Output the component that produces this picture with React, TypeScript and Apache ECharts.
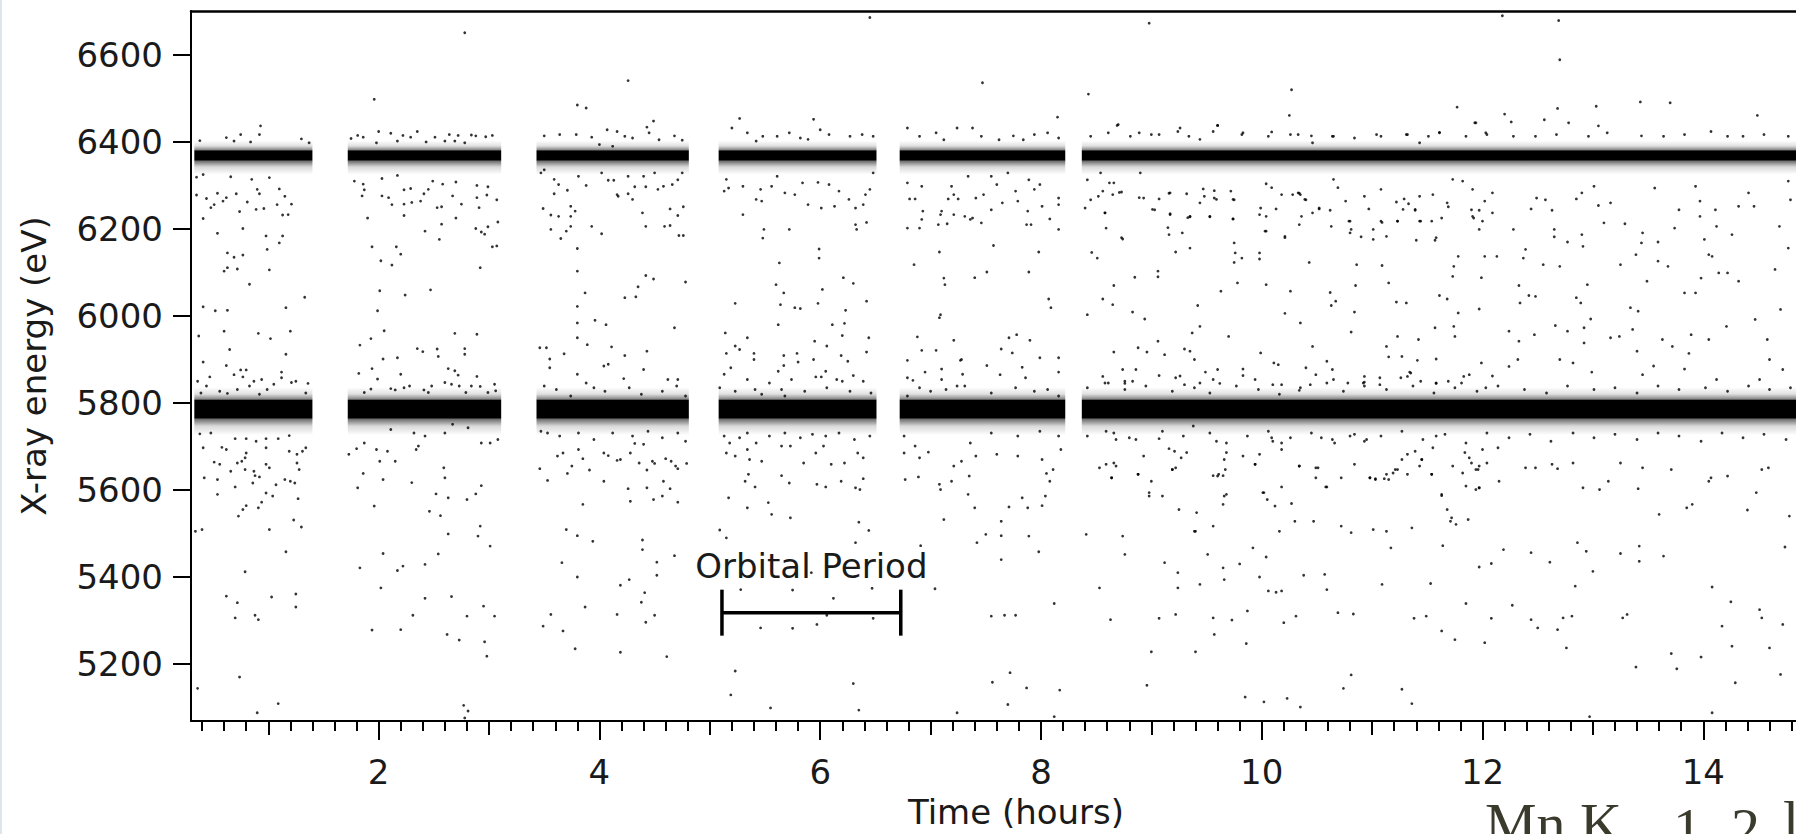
import React, { useEffect, useRef } from "react";
import * as echarts from "echarts";

// ---------------- data ----------------
// observation windows (hours)
const obsStart = [0.33, 1.72, 3.43, 5.08, 6.72, 8.37];
const obsEnd = [1.40, 3.11, 4.81, 6.51, 8.22, 14.84];
// emission line centres (eV) and the spread of their dense cores / halos (eV)
const lineCenter = [6368, 5785];
const lineHalfWidth = [12, 22];
const lineHaloAbove = [22, 28];
const lineHaloBelow = [32, 38];

const xTickLabels = [2, 4, 6, 8, 10, 12, 14];
const xMidTicks = [1, 3, 5, 7, 9, 11, 13];
const yTickLabels = [5200, 5400, 5600, 5800, 6000, 6200, 6400, 6600];

const orbitalLabel = "Orbital Period";
const orbitalBar = [[5.11, 6.73, 5317]];

const xTitle = "Time (hours)";
const yTitle = "X-ray energy (eV)";

// individual photon events: [time (h), energy (eV)]
const seg1Events = [
  [0.93,6436],[0.75,6416],[0.62,6409],[0.69,6401],[0.84,6399],[0.92,6416],[0.38,6402],[1.37,6397],[1.30,6406],
  [0.35,6318],[0.41,6324],[0.66,6319],[0.85,6313],[1.01,6317],[0.90,6290],[1.10,6291],[0.35,6277],[0.44,6269],[0.54,6281],[0.59,6263],[0.62,6271],[0.71,6280],[0.48,6248],[0.51,6255],[0.81,6261],[0.89,6244],[0.92,6280],[0.96,6246],[1.08,6255],[1.15,6274],[1.13,6231],[1.18,6232],[1.21,6256],[0.41,6223],[0.74,6239],[0.54,6189],[0.77,6200],[0.98,6183],[1.13,6183],[1.10,6167],[0.63,6144],[0.69,6134],[0.77,6139],[0.99,6152],[0.60,6102],[0.63,6110],[0.72,6107],[1.01,6105],[0.83,6072],[1.33,6042],[0.41,6020],[0.52,6011],[0.63,6012],[1.16,6018],[0.37,5953],[0.60,5964],[0.91,5959],[1.02,5947],[1.20,5964],[0.65,5922],[1.16,5911],[0.41,5893],[0.62,5885],[0.47,5859],[0.69,5864],[0.75,5875],[0.80,5875],[0.77,5859],[1.12,5870],[1.12,5857],[0.94,5853],[0.36,5849],[0.44,5838],[0.56,5826],[0.72,5830],[0.83,5838],[0.87,5849],[0.99,5830],[1.05,5842],[1.21,5846],[1.25,5849],[1.36,5844],[1.34,5822],[0.63,5821],[0.92,5819],[0.39,5822],
  [0.38,5728],[0.48,5730],[0.41,5696],[0.58,5697],[0.62,5692],[0.70,5717],[0.80,5717],[0.89,5711],[0.98,5717],[1.09,5717],[1.19,5724],[0.80,5684],[0.98,5696],[1.19,5688],[1.26,5681],[1.31,5688],[1.34,5696],[0.51,5663],[0.56,5658],[0.66,5642],[0.72,5661],[0.76,5665],[0.79,5673],[0.98,5658],[1.01,5650],[1.26,5661],[1.28,5646],[0.42,5627],[0.54,5623],[0.70,5606],[0.79,5646],[0.87,5642],[0.88,5632],[0.92,5629],[0.86,5615],[0.54,5589],[0.98,5592],[1.04,5585],[1.07,5611],[1.15,5623],[1.20,5619],[1.24,5615],[1.27,5579],[0.80,5563],[0.77,5554],[0.73,5539],[0.91,5558],[0.94,5571],[1.23,5530],[1.30,5514],[0.34,5504],[0.40,5508],[1.01,5508],[1.16,5457],[0.79,5411],[0.62,5355],[0.72,5340],[1.03,5353],[1.25,5360],[1.25,5330],[0.70,5305],[0.88,5311],[0.91,5301],[0.74,5169],[0.36,5143],[1.09,5108],[0.90,5087]
];

const seg2Events = [
  [1.75,6407],[1.81,6414],[1.86,6410],[2.00,6423],[2.11,6419],[2.22,6414],[2.29,6410],[2.35,6423],[2.17,6401],[1.98,6397],[2.43,6399],[2.51,6410],[2.64,6416],[2.72,6414],[2.84,6415],[2.88,6413],[2.97,6411],[3.03,6414],[2.60,6401],[2.69,6401],[2.78,6397],[1.96,6497],[2.78,6650],
  [1.78,6309],[1.86,6302],[1.85,6275],[1.87,6289],[2.03,6315],[2.03,6275],[2.09,6271],[2.12,6255],[2.17,6322],[2.23,6289],[2.23,6256],[2.29,6292],[2.30,6260],[2.38,6263],[2.41,6280],[2.45,6290],[2.49,6309],[2.58,6302],[2.67,6275],[2.70,6307],[2.75,6256],[2.53,6248],[2.57,6250],[2.23,6230],[1.90,6224],[2.70,6224],[2.89,6299],[2.99,6296],[2.89,6271],[2.98,6277],[3.07,6266],[2.91,6248],[3.08,6215],[2.88,6200],[2.93,6192],[2.96,6187],[2.99,6204],[2.42,6194],[2.57,6210],[2.55,6175],[1.94,6158],[2.16,6158],[2.20,6141],[2.02,6126],[2.12,6116],[2.92,6110],[3.03,6158],[3.07,6160],[2.01,6057],[2.24,6047],[2.47,6059],[1.99,6011],[2.05,5965],[1.93,5947],[1.83,5932],[2.69,5959],[2.89,5957],[2.04,5900],[2.17,5903],[1.94,5878],[1.99,5854],[2.20,5865],[2.35,5924],[2.40,5917],[2.53,5923],[2.54,5906],[2.78,5924],[2.78,5911],[2.63,5878],[2.69,5873],[2.72,5863],[2.89,5860],[1.82,5867],[1.87,5823],[1.93,5831],[2.11,5832],[2.15,5829],[2.23,5834],[2.28,5838],[2.41,5829],[2.45,5823],[2.48,5838],[2.60,5846],[2.66,5842],[2.73,5838],[2.84,5838],[2.92,5837],[2.99,5823],[3.05,5842],[3.06,5827],[2.79,5823],
  [2.11,5738],[2.32,5730],[2.36,5700],[2.42,5723],[2.60,5730],[2.67,5750],[2.81,5742],[2.93,5707],[3.01,5707],[3.08,5715],[2.34,5692],[2.08,5688],[2.15,5665],[2.04,5623],[2.30,5616],[2.52,5590],[2.63,5581],[2.59,5650],[2.60,5627],[2.80,5577],[2.88,5590],[2.93,5609],[2.46,5550],[2.56,5540],[2.63,5498],[2.92,5516],[2.90,5493],[3.01,5470],[2.54,5452],[2.04,5453],[2.17,5414],[2.22,5424],[2.42,5428],[2.42,5350],[2.66,5354],[2.95,5332],[2.31,5311],[2.80,5309],[3.05,5309],[2.20,5278],[2.62,5267],[2.73,5254],[2.96,5250],[2.98,5217],[2.77,5104],[2.81,5091],[2.78,5075],[1.73,5681],[1.81,5604],[1.86,5637],[1.96,5562],[1.83,5420],[2.02,5374],[1.94,5277],[1.98,5692],[2.01,5665],[1.87,5707],[1.80,5694]
];

const seg3Events = [
  [3.80,6484],[3.88,6477],[4.26,6540],[4.49,6447],[4.43,6433],[3.50,6413],[3.64,6416],[3.79,6416],[3.93,6410],[4.07,6427],[4.16,6423],[4.23,6412],[4.30,6408],[4.45,6420],[4.54,6404],[4.68,6413],[4.75,6403],[4.00,6393],[4.12,6389],
  [3.47,6328],[3.50,6335],[3.59,6313],[3.63,6301],[3.88,6299],[3.81,6320],[4.02,6328],[4.08,6311],[4.13,6311],[4.26,6320],[4.40,6320],[4.50,6328],[4.58,6297],[4.66,6301],[4.75,6328],[4.71,6312],[3.59,6280],[3.71,6288],[3.74,6251],[3.78,6240],[3.49,6246],[3.56,6231],[3.63,6228],[3.74,6228],[4.16,6278],[4.17,6274],[4.26,6280],[4.30,6267],[4.32,6296],[4.42,6296],[4.53,6290],[4.64,6245],[4.71,6230],[4.76,6250],[4.39,6236],[3.93,6205],[4.02,6188],[4.42,6205],[4.59,6205],[4.64,6207],[4.72,6184],[4.76,6184],[3.56,6198],[3.70,6194],[3.74,6205],[3.65,6177],[3.80,6154],[3.80,6102],[3.87,6052],[3.80,6021],[3.80,5983],[3.80,5949],[3.89,5933],[3.96,5989],[4.06,5979],[4.11,5928],[4.23,6041],[4.33,6043],[4.35,6066],[4.42,6092],[4.49,6084],[4.68,5972],[4.78,6077],[4.23,5908],[4.43,5918],[3.46,5926],[3.52,5926],[3.55,5900],[3.68,5912],[3.55,5880],[3.80,5865],[4.04,5884],[4.08,5888],[4.22,5855],[4.40,5876],[4.62,5853],[4.71,5853],[3.50,5838],[3.61,5830],[3.88,5845],[3.95,5834],[4.05,5826],[4.27,5834],[4.38,5819],[4.57,5826],[4.70,5838],[4.78,5815],[3.74,5815],
  [3.47,5734],[3.53,5730],[3.64,5723],[3.81,5730],[3.95,5715],[4.12,5730],[4.30,5723],[4.44,5734],[4.57,5719],[4.71,5730],[4.78,5711],[3.46,5648],[3.53,5621],[3.62,5677],[3.67,5684],[3.71,5637],[3.75,5654],[3.81,5692],[3.91,5645],[3.85,5671],[4.04,5619],[4.04,5684],[4.08,5678],[4.16,5667],[4.19,5669],[4.28,5684],[4.32,5706],[4.36,5661],[4.40,5704],[4.43,5645],[4.48,5665],[4.50,5660],[4.58,5619],[4.60,5671],[4.65,5665],[4.69,5654],[4.71,5648],[4.79,5660],[4.26,5602],[4.43,5604],[4.28,5573],[4.49,5577],[4.57,5585],[4.64,5602],[4.71,5571],[3.85,5566],[3.70,5508],[3.80,5494],[3.94,5481],[4.39,5484],[4.39,5462],[3.66,5432],[3.80,5399],[4.52,5433],[4.52,5403],[4.68,5448],[4.19,5380],[4.27,5393],[4.41,5363],[4.38,5341],[3.56,5313],[3.49,5286],[3.67,5275],[3.87,5330],[4.16,5313],[4.50,5311],[4.42,5295],[3.78,5234],[4.19,5226],[4.61,5216]
];

const seg4Events = [
  [5.27,6453],[5.94,6451],[6.45,6685],[5.20,6431],[5.34,6420],[5.48,6412],[5.61,6412],[5.72,6420],[5.82,6408],[6.00,6427],[6.08,6416],[6.27,6412],[6.38,6416],[6.48,6412],[5.42,6401],[5.89,6405],
  [5.15,6313],[5.13,6286],[5.17,6293],[5.30,6297],[5.42,6267],[5.47,6263],[5.46,6290],[5.56,6297],[5.61,6320],[5.68,6282],[5.77,6278],[5.84,6305],[5.89,6255],[5.98,6306],[6.01,6247],[6.08,6301],[6.13,6251],[6.17,6286],[6.26,6267],[6.32,6247],[6.39,6255],[6.41,6278],[6.45,6290],[6.48,6328],[6.32,6209],[6.33,6198],[6.42,6214],[5.30,6232],[5.49,6198],[5.48,6178],[5.72,6198],[5.99,6153],[5.99,6132],[5.63,6121],[5.60,6071],[5.67,6052],[5.23,6028],[5.64,6025],[5.77,6018],[5.82,6016],[5.98,6028],[6.02,6060],[6.21,6087],[6.30,6074],[6.23,6012],[6.42,6033],[5.62,5979],[6.11,5979],[6.22,5982],[5.14,5960],[5.34,5949],[6.20,5954],[6.44,5949],[5.15,5913],[5.23,5930],[5.27,5922],[5.40,5913],[5.67,5908],[5.79,5913],[5.95,5941],[6.06,5930],[6.19,5908],[6.42,5916],[5.19,5880],[5.40,5899],[5.62,5872],[5.67,5885],[5.80,5893],[5.94,5899],[5.96,5859],[6.01,5859],[6.05,5872],[6.25,5895],[6.30,5862],[6.39,5849],[5.13,5865],[5.34,5853],[5.54,5845],[5.74,5853],[6.15,5853],[6.20,5849],[5.09,5834],[5.23,5826],[5.41,5830],[5.65,5830],[5.86,5826],[6.06,5834],[6.27,5826],[6.46,5822],[5.47,5819],[5.68,5815],
  [5.13,5723],[5.18,5707],[5.27,5719],[5.34,5730],[5.42,5707],[5.54,5723],[5.68,5730],[5.82,5719],[5.93,5727],[6.05,5723],[6.17,5730],[6.31,5715],[6.45,5723],[5.15,5684],[5.23,5677],[5.34,5692],[5.36,5669],[5.47,5665],[5.65,5700],[5.73,5700],[5.85,5661],[5.96,5684],[6.03,5700],[6.10,5658],[6.22,5661],[6.34,5684],[6.39,5673],[5.35,5635],[5.32,5619],[5.41,5606],[5.65,5632],[5.72,5615],[5.97,5612],[6.05,5606],[6.19,5619],[6.32,5604],[6.36,5600],[6.39,5625],[5.17,5581],[5.34,5558],[5.53,5570],[5.56,5543],[5.73,5535],[6.35,5525],[6.44,5506],[5.09,5507],[5.15,5489],[6.32,5478],[5.28,5370],[5.75,5369],[6.12,5350],[6.47,5373],[5.92,5409],[5.46,5282],[5.75,5281],[5.97,5290],[6.48,5304],[6.06,5311],[5.23,5183],[5.19,5128],[5.55,5098],[6.30,5154],[6.35,5093]
];

const seg5Events = [
  [6.79,6431],[6.90,6412],[7.05,6420],[7.24,6431],[7.38,6431],[7.12,6404],[7.47,6535],[8.15,6456],[7.46,6412],[7.62,6404],[7.75,6413],[7.94,6416],[8.06,6420],[8.16,6408],[7.84,6404],
  [6.79,6305],[6.81,6268],[6.86,6268],[6.92,6297],[7.19,6297],[6.93,6240],[6.92,6221],[6.79,6201],[6.90,6201],[7.09,6232],[7.10,6240],[7.16,6268],[7.21,6278],[7.25,6268],[7.21,6232],[7.31,6228],[7.36,6221],[7.07,6209],[7.15,6211],[6.85,6117],[7.08,6146],[7.12,6086],[7.13,6071],[7.09,6002],[7.08,5995],[6.88,5951],[6.92,5920],[7.05,5920],[7.21,5943],[6.79,5897],[6.95,5870],[7.10,5877],[7.27,5897],[6.79,5857],[6.84,5851],[7.10,5853],[7.29,5865],[6.79,5815],[6.90,5834],[7.00,5826],[7.14,5830],[7.24,5838],
  [7.34,6320],[7.55,6320],[7.70,6328],[7.89,6312],[7.60,6301],[7.99,6301],[7.48,6278],[7.77,6286],[7.94,6290],[8.16,6270],[8.16,6255],[7.41,6270],[7.38,6224],[7.46,6213],[7.55,6243],[7.65,6259],[7.79,6263],[7.88,6240],[7.87,6209],[7.91,6209],[8.01,6251],[8.08,6222],[8.16,6198],[7.57,6161],[7.98,6146],[7.51,6100],[7.40,6087],[7.89,6100],[8.07,6038],[8.09,6018],[7.78,5956],[7.90,5943],[7.71,5949],[7.64,5923],[7.74,5914],[7.51,5885],[7.83,5881],[7.99,5903],[8.16,5903],[7.28,5899],[7.63,5864],[7.86,5857],[8.16,5870],[7.77,5834],[7.94,5826],[8.06,5830],[7.55,5822],[8.16,5815],[7.31,5838],
  [6.76,5723],[6.86,5700],[6.76,5684],[6.90,5673],[6.98,5686],[6.77,5623],[6.89,5629],[7.08,5612],[7.09,5600],[7.21,5654],[7.19,5619],[7.28,5665],[7.12,5531],[6.91,5471],[7.04,5372],[7.24,5087],[7.35,5631],[7.34,5589],[7.40,5558],[7.42,5478],[7.36,5707],[7.55,5730],[7.79,5723],[7.99,5734],[8.16,5723],[7.41,5677],[7.60,5681],[7.79,5677],[8.01,5669],[8.18,5692],[7.64,5527],[7.71,5560],[7.83,5581],[7.88,5558],[8.01,5563],[8.04,5585],[8.05,5637],[8.08,5619],[8.11,5646],[7.50,5497],[7.64,5494],[7.64,5439],[7.89,5493],[7.98,5457],[8.12,5338],[7.55,5309],[7.67,5311],[7.77,5311],[7.56,5157],[7.72,5179],[7.87,5144],[7.70,5106],[8.17,5139],[8.12,5078]
];

const seg6Events = [
  [8.43,6509],[8.98,6672],[10.27,6519],[10.25,6460],[11.77,6479],[12.18,6689],[12.69,6678],[12.70,6588],[12.68,6476],[13.03,6481],[13.43,6491],[13.70,6489],[14.49,6460],[12.20,6463],[11.93,6443],[12.56,6450],[12.78,6443],[12.26,6445],[8.69,6437],[9.60,6437],[13.05,6436],
  [8.45,6412],[8.61,6420],[8.81,6412],[9.00,6416],[9.24,6423],[9.34,6412],[9.56,6423],[9.82,6416],[10.06,6412],[10.26,6416],[10.45,6413],[10.64,6412],[10.84,6408],[11.08,6412],[11.32,6416],[11.51,6412],[11.61,6421],[11.85,6412],[12.04,6416],[12.28,6412],[12.48,6412],[12.67,6416],[12.96,6412],[13.13,6420],[13.44,6413],[13.64,6412],[13.83,6416],[14.07,6423],[14.22,6412],[14.36,6412],[14.55,6416],[14.77,6412],
  [8.42,6312],[8.54,6328],[8.66,6305],[8.52,6274],[8.71,6283],[8.45,6266],[8.40,6247],[8.58,6236],[8.59,6201],[8.74,6176],[8.46,6145],[8.51,6132],[8.85,6088],[8.66,6069],[8.56,6038],[8.65,6025],[8.83,6008],[8.94,5992],[8.42,6002],[8.90,6328],[8.93,6270],[9.03,6243],[9.06,6102],[9.06,6089],[9.17,6282],[8.66,5916],[8.88,5926],[8.96,5916],[8.74,5876],[8.86,5876],[9.06,5941],[8.56,5860],[9.12,5910],[8.76,5849],
  [9.17,6232],[9.35,6227],[9.16,6186],[9.28,6190],[9.22,6146],[9.35,6155],[9.48,6274],[9.57,6270],[9.53,6228],[9.75,6266],[9.74,6222],[9.75,6167],[9.76,6144],[9.75,6122],[9.82,6132],[9.98,6144],[9.98,6130],[10.04,6228],[10.03,6194],[9.99,6247],[9.63,6056],[9.78,6075],[10.04,6071],[9.42,6023],[9.37,5960],[9.44,5975],[9.70,5952],[9.35,5918],[9.30,5923],[9.60,5876],[9.39,5899],[9.83,5877],[9.99,5914],[10.11,5891],[10.15,5887],[9.56,5853],[9.22,5857],
  [10.21,6182],[10.33,6282],[10.35,6278],[10.40,6266],[10.46,6236],[10.52,6247],[10.62,6242],[10.63,6205],[10.81,6198],[10.79,6217],[10.90,6181],[11.01,6175],[11.09,6214],[11.13,6182],[10.35,5983],[10.21,6005],[10.26,6056],[10.62,6053],[10.63,6023],[10.67,6033],[10.85,6069],[10.84,6008],[10.81,5962],[10.86,6117],[11.09,6115],[10.43,6122],[10.46,5929],[10.40,5880],[10.59,5895],[10.64,5876],[10.93,5860],[10.93,5847],[11.07,5857],[11.13,5929],[11.15,5905],
  [11.15,6075],[11.22,6031],[11.31,6029],[11.23,5952],[11.42,5945],[11.41,5897],[11.27,5906],[11.34,5870],[11.58,5900],[11.57,5972],[11.61,6046],[11.68,6038],[11.78,6006],[11.75,5952],[11.74,5975],[11.73,6090],[11.74,6113],[11.78,6136],[11.23,6217],[11.33,6257],[11.39,6242],[11.40,6173],[11.57,6173],[11.44,6217],[11.54,6217],[11.63,6224],[11.68,6259],[11.90,6243],[11.92,6224],[11.97,6198],[11.99,6087],[12.02,6136],[11.97,6015],[11.99,5891],[12.09,6236],[11.83,5860],[11.58,5845],[11.32,5860],
  [12.13,6136],[12.24,5964],[12.33,5941],[12.33,6069],[12.34,6029],[12.37,6132],[12.28,6198],[12.39,6152],[12.42,6046],[12.48,6044],[12.47,5956],[12.49,6270],[12.57,6266],[12.63,6242],[12.65,6198],[12.65,6181],[12.70,6113],[12.77,6169],[12.90,6186],[12.91,6159],[12.55,6117],[12.66,5977],[12.77,5964],[12.92,5972],[12.92,5937],[12.85,6041],[12.89,6029],[12.98,5992],[12.95,6071],[12.70,5899],[12.82,5891],[12.99,5870],[12.32,5899],[12.24,5883],[13.01,6297],[12.90,6282],[12.85,6268],[13.05,6253],[12.44,6245],
  [13.10,6213],[13.16,6259],[13.25,6117],[13.24,5952],[13.16,5949],[13.34,6018],[13.36,5968],[13.41,6010],[13.39,6140],[13.44,6167],[13.49,6079],[13.45,6190],[13.29,6211],[13.59,6125],[13.68,6113],[13.59,6169],[13.56,6293],[13.74,6201],[13.78,6243],[13.83,6052],[13.93,6052],[13.63,5945],[13.72,5929],[13.87,5913],[13.89,5956],[13.45,5864],[13.40,5918],[13.55,5884],[13.83,5877],[13.98,6086],[14.01,6175],[13.97,6228],[13.97,6263],[13.93,6297],
  [14.05,6140],[14.08,6136],[14.14,6098],[14.22,6098],[14.32,6079],[14.21,5975],[14.11,6243],[14.12,6205],[14.26,6186],[14.32,6251],[14.46,6251],[14.41,6282],[14.47,5991],[14.58,5945],[14.65,6106],[14.69,6205],[14.70,6014],[14.77,6155],[14.60,5899],[14.05,5945],[14.12,5853],[14.51,5853],[14.72,5876],[14.79,6266],[14.77,6309],
  [8.42,5834],[8.61,5845],[8.76,5830],[8.95,5838],[9.19,5826],[9.39,5834],[9.53,5822],[9.77,5838],[9.97,5830],[10.16,5819],[10.35,5834],[10.59,5845],[10.74,5826],[10.93,5838],[11.13,5830],[11.37,5838],[11.56,5822],[11.75,5834],[11.95,5826],[12.14,5838],[12.38,5830],[12.58,5822],[12.77,5838],[13.01,5830],[13.20,5834],[13.40,5822],[13.59,5838],[13.78,5830],[14.02,5834],[14.22,5826],[14.41,5838],[14.60,5830],[14.79,5834],
  [8.42,5723],[8.66,5730],[8.86,5715],[9.10,5734],[9.29,5723],[9.53,5730],[9.68,5707],[9.87,5723],[10.06,5734],[10.26,5719],[10.45,5730],[10.64,5715],[10.84,5727],[11.08,5723],[11.27,5734],[11.46,5715],[11.66,5727],[11.85,5707],[12.04,5730],[12.24,5719],[12.43,5727],[12.62,5711],[12.82,5730],[13.01,5719],[13.20,5727],[13.40,5715],[13.59,5730],[13.78,5723],[13.98,5711],[14.17,5730],[14.36,5719],[14.55,5727],[14.75,5715],
  [8.53,5650],[8.66,5661],[8.64,5627],[8.88,5635],[8.98,5593],[9.10,5585],[8.93,5677],[9.19,5646],[9.25,5554],[9.41,5547],[9.39,5504],[9.56,5516],[9.68,5589],[9.65,5566],[9.61,5635],[9.67,5646],[9.94,5658],[10.02,5593],[10.05,5577],[10.18,5606],[10.27,5568],[10.12,5562],[10.34,5654],[10.49,5650],[10.58,5606],[10.72,5627],[10.84,5658],[10.98,5627],[11.03,5623],[11.13,5635],[11.15,5623],[11.21,5646],[11.27,5669],[11.32,5635],[11.45,5669],[11.54,5635],[11.63,5589],[11.68,5554],[11.72,5535],[11.76,5520],[11.87,5531],[11.94,5600],[11.97,5604],[11.96,5646],[12.04,5661],[12.15,5619],[12.39,5650],[12.48,5650],[12.63,5658],[12.68,5648],[12.82,5661],[12.91,5604],[13.06,5600],[13.14,5619],[13.25,5661],[13.41,5602],[13.45,5650],[13.60,5543],[13.71,5646],[13.85,5558],[13.90,5566],[14.05,5619],[14.07,5627],[14.22,5631],[14.40,5553],[14.48,5593],[14.53,5646],[14.59,5650],[14.78,5539],
  [8.41,5497],[8.74,5493],[8.76,5451],[8.53,5374],[8.63,5301],[9.07,5304],[9.22,5313],[9.12,5432],[9.24,5409],[9.24,5374],[9.40,5504],[9.44,5382],[9.51,5451],[9.65,5420],[9.66,5393],[9.56,5305],[9.57,5267],[9.73,5300],[9.87,5321],[9.80,5429],[9.92,5466],[9.98,5399],[10.04,5445],[10.06,5367],[10.13,5364],[10.18,5367],[10.16,5504],[10.20,5294],[10.31,5309],[10.38,5403],[10.57,5405],[10.59,5370],[10.47,5527],[10.30,5527],[10.69,5317],[10.83,5314],[10.72,5516],[10.81,5501],[11.01,5508],[11.13,5504],[11.09,5382],[11.17,5466],[11.36,5512],[11.38,5304],[11.49,5309],[11.53,5384],[11.63,5275],[11.75,5255],[11.64,5471],[11.71,5527],[11.85,5338],[11.97,5422],[12.08,5430],[12.08,5304],[12.02,5248],[12.19,5462],[12.27,5334],[12.44,5455],[12.44,5301],[12.50,5282],[12.61,5433],[12.68,5278],[12.76,5236],[12.73,5305],[12.81,5309],[12.84,5378],[12.86,5478],[12.94,5458],[13.00,5412],[13.25,5453],[13.27,5305],[13.31,5313],[13.42,5470],[13.42,5435],[13.64,5447],[13.71,5223],[13.98,5215],[14.08,5376],[14.17,5286],[14.26,5240],[14.25,5342],[14.51,5324],[14.53,5305],[14.60,5236],[14.72,5290],[14.74,5468],
  [9.00,5227],[9.40,5227],[9.86,5246],[8.96,5150],[9.85,5123],[10.02,5112],[10.23,5120],[10.35,5100],[10.74,5143],[10.81,5174],[11.27,5141],[11.36,5108],[12.97,5078],[13.39,5192],[13.76,5188],[14.08,5087],[14.29,5156],[14.70,5175]
];

// additional events read from the 8.5–12.1 h stretch
const seg6ExtraEvents = [
  [8.62,6305],[8.56,6286],[8.65,6278],[8.73,6284],[8.89,6271],[9.07,6268],[9.16,6281],[9.32,6280],[9.47,6291],[9.57,6287],[9.72,6286],[9.74,6267],[10.04,6303],[10.09,6294],[10.18,6278],[10.28,6278],[10.34,6281],[10.39,6267],[10.52,6245],[10.65,6313],[10.69,6294],[10.76,6263],[10.93,6274],[10.97,6245],[11.08,6290],[11.22,6261],[11.29,6268],[11.39,6244],[11.43,6274],[11.55,6278],[11.69,6250],[11.73,6313],[11.82,6309],[11.91,6290],[11.97,6242],[12.02,6263],[12.09,6282],
  [8.58,6236],[9.01,6244],[9.17,6234],[9.35,6228],[9.44,6259],[9.53,6227],[9.59,6267],[9.74,6222],[9.98,6232],[10.13,6245],[10.36,6228],[10.80,6217],[11.08,6217],[11.23,6217],[11.28,6244],[11.43,6217],[11.91,6228],[12.00,6217],[8.73,6179],[9.15,6202],[9.33,6225],[10.04,6194],[10.21,6179],[10.34,6209],[10.80,6190],[11.01,6198],[11.58,6179],
  [8.70,6439],[9.26,6431],[9.60,6437],[9.83,6420],[10.09,6422],[10.33,6416],[10.65,6412],[11.04,6416],[11.31,6416],[11.61,6420],[11.94,6443],[12.03,6420],[8.89,6420],[9.07,6416],[9.44,6405],[10.46,6397],[11.43,6397],
  [8.58,5845],[8.76,5844],[8.83,5849],[9.07,5862],[9.26,5861],[9.30,5841],[9.44,5845],[9.49,5870],[9.62,5844],[9.83,5862],[9.94,5853],[10.10,5841],[10.18,5841],[10.34,5828],[10.44,5841],[10.49,5864],[10.65,5853],[10.78,5845],[10.92,5845],[11.07,5841],[11.26,5857],[11.35,5868],[11.44,5849],[11.58,5844],[11.69,5849],[11.81,5845],[11.88,5864],[12.03,5834],[12.09,5861],
  [8.59,5734],[8.68,5715],[8.80,5719],[8.59,5658],[8.68,5654],[8.64,5627],[8.88,5635],[9.00,5619],[9.07,5717],[9.16,5694],[9.21,5688],[9.27,5673],[9.32,5685],[9.19,5646],[9.22,5650],[9.38,5746],[9.59,5711],[9.68,5685],[9.66,5669],[9.60,5631],[9.56,5632],[9.65,5632],[9.83,5677],[9.98,5681],[9.94,5658],[10.09,5719],[10.10,5711],[10.18,5707],[10.18,5692],[10.34,5654],[10.51,5650],[10.49,5627],[10.59,5606],[10.54,5719],[10.66,5707],[10.80,5723],[10.95,5715],[10.93,5711],[10.98,5627],[11.03,5625],[11.11,5625],[11.19,5638],[11.23,5646],[11.32,5681],[11.39,5688],[11.45,5669],[11.43,5654],[11.54,5635],[11.55,5696],[11.58,5723],[11.73,5654],[11.84,5685],[11.88,5673],[11.90,5661],[11.94,5646],[11.97,5654],[12.00,5692],[12.14,5696],[11.82,5638],[11.85,5608],[11.97,5604],[9.66,5585],[8.98,5585],[10.01,5593],[11.63,5586]
];

// ---------------- chart ----------------
const FONT = '"DejaVu Sans", Verdana, sans-serif';
const TEXT = "#1a1a1a";
const SERIF = '"Liberation Serif", serif';
const OLIVE = "#3b3b2d";

export default function App() {
  const ref = useRef<HTMLDivElement>(null);

  useEffect(() => {
    if (!ref.current) return;
    const chart = echarts.init(ref.current, null, { renderer: "svg" });

    const minorTicks: number[] = [];
    for (let i = 2; i <= 74; i++) minorTicks.push(Math.round(i * 2) / 10);

    const bandData: number[][] = [];
    obsStart.forEach((s, i) => {
      lineCenter.forEach((c, j) => {
        bandData.push([s, obsEnd[i], c, lineHalfWidth[j], lineHaloAbove[j], lineHaloBelow[j]]);
      });
    });

    const events = [
      ...seg1Events, ...seg2Events, ...seg3Events, ...seg4Events, ...seg5Events, ...seg6Events, ...seg6ExtraEvents,
    ];

    const xBase = { type: "value", min: 0.3, max: 14.84, gridIndex: 0, splitLine: { show: false } };
    const tickStyle = { color: "#000", width: 2 };

    const option: any = {
      animation: false,
      backgroundColor: "#ffffff",
      grid: { left: 191, right: 0, top: 11, bottom: 113, containLabel: false },
      xAxis: [
        {
          ...xBase,
          position: "bottom",
          axisLine: { show: true, onZero: false, lineStyle: { color: "#000", width: 2 } },
          axisTick: { show: true, customValues: xTickLabels, length: 19, lineStyle: tickStyle },
          axisLabel: {
            show: true, customValues: xTickLabels, fontSize: 34, fontFamily: FONT, color: TEXT, margin: 34,
            formatter: (v: number) => String(v),
          },
        },
        {
          ...xBase,
          position: "bottom",
          axisLine: { show: false, onZero: false },
          axisTick: { show: true, customValues: xMidTicks, length: 14, lineStyle: tickStyle },
          axisLabel: { show: false },
        },
        {
          ...xBase,
          position: "bottom",
          axisLine: { show: false, onZero: false },
          axisTick: { show: true, customValues: minorTicks, length: 10, lineStyle: tickStyle },
          axisLabel: { show: false },
        },
        {
          ...xBase,
          position: "top",
          axisLine: { show: true, onZero: false, lineStyle: { color: "#000", width: 2.5 } },
          axisTick: { show: false },
          axisLabel: { show: false },
        },
      ],
      yAxis: {
        type: "value",
        min: 5068,
        max: 6700,
        splitLine: { show: false },
        axisLine: { show: true, onZero: false, lineStyle: { color: "#000", width: 2 } },
        axisTick: { show: true, customValues: yTickLabels, length: 18, lineStyle: tickStyle },
        axisLabel: {
          customValues: yTickLabels, fontSize: 34, fontFamily: FONT, color: TEXT, margin: 28,
          formatter: (v: number) => String(v),
        },
        name: yTitle,
        nameLocation: "middle",
        nameGap: 140,
        nameTextStyle: { fontSize: 34, fontFamily: FONT, color: TEXT },
      },
      series: [
        {
          type: "custom",
          name: "lines",
          xAxisIndex: 0,
          yAxisIndex: 0,
          silent: true,
          encode: { x: [0, 1], y: 2 },
          data: bandData,
          renderItem: (params: any, api: any) => {
            const t0 = api.value(0), t1 = api.value(1), c = api.value(2);
            const hw = api.value(3), up = api.value(4), dn = api.value(5);
            const cs = params.coordSys;
            const clip = { x: cs.x, y: cs.y, width: cs.width, height: cs.height };
            const mk = (eTop: number, eBot: number, fill: any) => {
              const a = api.coord([t0, eTop]);
              const b = api.coord([t1, eBot]);
              const shape = echarts.graphic.clipRectByRect(
                { x: a[0], y: a[1], width: b[0] - a[0], height: b[1] - a[1] },
                clip
              );
              return shape ? { type: "rect", shape, style: { fill } } : null;
            };
            const haloUp = new echarts.graphic.LinearGradient(0, 0, 0, 1, [
              { offset: 0, color: "rgba(0,0,0,0)" },
              { offset: 0.55, color: "rgba(0,0,0,0.12)" },
              { offset: 1, color: "rgba(0,0,0,0.5)" },
            ]);
            const haloDown = new echarts.graphic.LinearGradient(0, 0, 0, 1, [
              { offset: 0, color: "rgba(0,0,0,0.6)" },
              { offset: 0.45, color: "rgba(0,0,0,0.15)" },
              { offset: 1, color: "rgba(0,0,0,0)" },
            ]);
            const children = [
              mk(c + hw + up, c + hw, haloUp),
              mk(c - hw, c - hw - dn, haloDown),
              mk(c + hw, c - hw, "#000"),
            ].filter(Boolean);
            return { type: "group", children };
          },
          z: 2,
        },
        {
          type: "scatter",
          name: "events",
          xAxisIndex: 0,
          yAxisIndex: 0,
          symbol: "circle",
          symbolSize: 2.8,
          itemStyle: { color: "#000" },
          data: events,
          silent: true,
          z: 3,
        },
        {
          type: "custom",
          name: "orbital",
          xAxisIndex: 0,
          yAxisIndex: 0,
          silent: true,
          encode: { x: [0, 1], y: 2 },
          data: orbitalBar,
          renderItem: (params: any, api: any) => {
            const a = api.coord([api.value(0), api.value(2)]);
            const b = api.coord([api.value(1), api.value(2)]);
            const st = { stroke: "#000", lineWidth: 3.5 };
            return {
              type: "group",
              children: [
                { type: "line", shape: { x1: a[0], y1: a[1], x2: b[0], y2: b[1] }, style: st },
                { type: "line", shape: { x1: a[0], y1: a[1] - 23, x2: a[0], y2: a[1] + 23 }, style: st },
                { type: "line", shape: { x1: b[0], y1: b[1] - 23, x2: b[0], y2: b[1] + 23 }, style: st },
                {
                  type: "text",
                  x: (a[0] + b[0]) / 2,
                  y: a[1] - 47,
                  style: { text: orbitalLabel, font: `34px ${FONT}`, fill: TEXT, align: "center", verticalAlign: "middle" },
                },
              ],
            };
          },
          z: 4,
        },
      ],
      graphic: [
        { type: "rect", left: 0, top: 0, shape: { width: 2, height: 834 }, style: { fill: "#dfe5ec" }, silent: true },
        {
          type: "text",
          x: 1016,
          y: 812,
          style: { text: xTitle, font: `34px ${FONT}`, fill: TEXT, align: "center", verticalAlign: "middle" },
        },
        {
          type: "group",
          children: [
            { type: "text", x: 1485, y: 794, style: { text: "Mn K", font: `58px ${SERIF}`, fill: OLIVE, align: "left", verticalAlign: "top" } },
            { type: "text", x: 1632, y: 824, style: { text: "α", font: `40px ${SERIF}`, fill: OLIVE, align: "left", verticalAlign: "top" } },
            { type: "text", x: 1673, y: 799, style: { text: "1, 2", font: `58px ${SERIF}`, fill: OLIVE, align: "left", verticalAlign: "top" } },
            { type: "text", x: 1783, y: 792, style: { text: "lines", font: `58px ${SERIF}`, fill: OLIVE, align: "left", verticalAlign: "top" } },
          ],
        },
      ],
    };

    chart.setOption(option);
    return () => chart.dispose();
  }, []);

  return (
    <div
      ref={ref}
      style={{ position: "fixed", left: 0, top: 0, width: 1796, height: 834, background: "#fff" }}
    />
  );
}
